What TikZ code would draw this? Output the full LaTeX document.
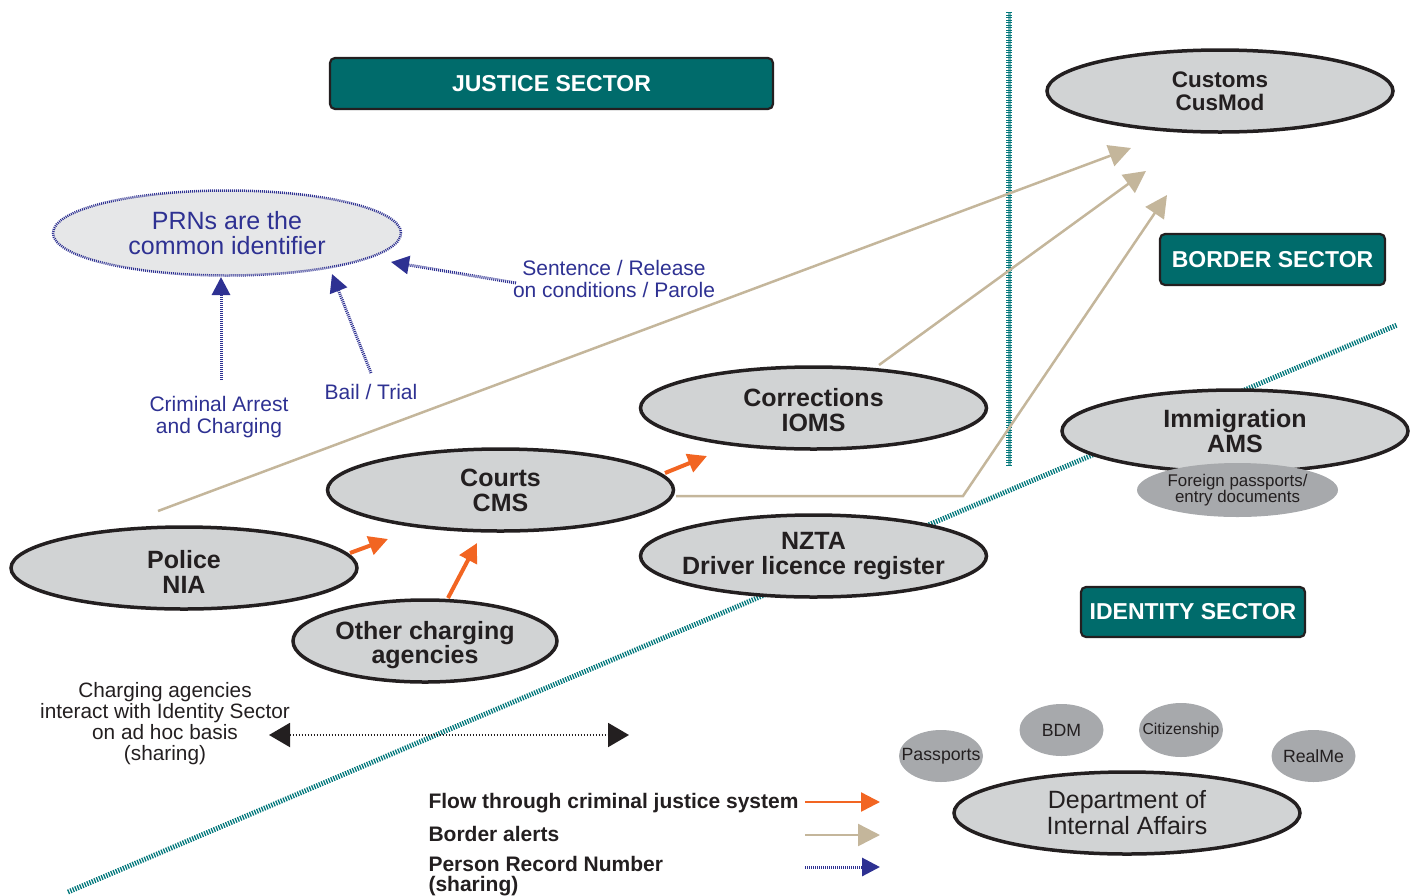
\documentclass[tikz,border=0pt]{standalone}
\usepackage{fontspec}
\setmainfont{Liberation Sans}
\usetikzlibrary{shapes.geometric,arrows.meta}
\definecolor{ink}{RGB}{35,31,32}
\definecolor{tealbox}{RGB}{0,107,107}
\definecolor{tealline}{RGB}{0,118,122}
\definecolor{teallight}{RGB}{120,180,180}
\definecolor{ellgray}{RGB}{209,211,212}
\definecolor{prngray}{RGB}{230,231,232}
\definecolor{darkgray2}{RGB}{167,169,172}
\definecolor{bluec}{RGB}{46,49,146}
\definecolor{orangec}{RGB}{242,101,34}
\definecolor{tanc}{RGB}{196,182,155}
\tikzset{
  sectorbox/.style={draw=ink, line width=2.2pt, fill=tealbox, rounded corners=5pt, text=white,
    font=\bfseries\fontsize{23}{23}\selectfont, inner sep=0pt},
  bigell/.style={ellipse, draw=ink, line width=3.5pt, fill=ellgray, inner xsep=-40pt, inner ysep=0pt, text=ink,
    align=center, minimum width=346pt, minimum height=82pt, font=\bfseries\fontsize{25}{25}\selectfont},
  smallell/.style={ellipse, fill=darkgray2, inner xsep=-20pt, inner ysep=-4pt, text=ink, align=center,
    minimum width=84pt, minimum height=52pt, font=\fontsize{17.7}{17.7}\selectfont},
  bluelabel/.style={text=bluec, align=center, font=\fontsize{21}{21.5}\selectfont},
  orangearrow/.style={draw=orangec, line width=4pt, -{Triangle[length=19pt,width=19pt]}},
  tanarrow/.style={draw=tanc, line width=2.5pt, -{Triangle[length=22pt,width=22pt]}},
  bluearrow/.style={draw=bluec, line width=3pt, dash pattern=on 1pt off 1pt, -{Triangle[length=18pt,width=18pt]}},
  legendtext/.style={anchor=west, text=ink, align=left, font=\bfseries\fontsize{21}{20.5}\selectfont},
}
\begin{document}
\begin{tikzpicture}[x=1pt,y=-1pt]
\useasboundingbox (0,0) rectangle (1416,895);

% sector dividers
\coordinate (dA) at (68,892);
\coordinate (dB) at (1397,325);
\draw[tealline, line width=5pt, dash pattern=on 1.3pt off 1.3pt] (dA) -- (dB);
\coordinate (vA) at (1009,12);
\coordinate (vB) at (1009,466);
\draw[teallight, line width=3pt] (vA) -- (vB);
\draw[tealline, line width=6pt, dash pattern=on 1.2pt off 1.3pt] (vA) -- (vB);

% border alerts (tan)
\coordinate (t1s) at (158,511);
\coordinate (t1e) at (1131,148);
\coordinate (t2s) at (879,365);
\coordinate (t2e) at (1146,171);
\coordinate (t3s) at (676,496);
\coordinate (t3m) at (963,496);
\coordinate (t3e) at (1167,195);
\draw[tanarrow] (t1s) -- (t1e);
\draw[tanarrow] (t2s) -- (t2e);
\draw[tanarrow] (t3s) -- (t3m) -- (t3e);

% sector titles
\node[sectorbox, minimum width=443pt, minimum height=51pt] (justice) at (551.5,83.5) {JUSTICE SECTOR};
\node[sectorbox, minimum width=225pt, minimum height=51pt] (border) at (1272.5,259.5) {BORDER SECTOR};
\node[sectorbox, minimum width=224pt, minimum height=50pt] (identity) at (1193,612) {IDENTITY SECTOR};

% agencies
\node[bigell, font=\bfseries\fontsize{22.5}{23}\selectfont] (customs) at (1220,91) {Customs\\CusMod};
\node[bigell] (corrections) at (813.5,408) {\rule{0pt}{23pt}Corrections\\IOMS};
\node[bigell] (courts) at (500.5,490) {Courts\\CMS};
\node[bigell] (police) at (184,568) {\rule{0pt}{26pt}Police\\NIA};
\node[bigell, minimum width=264pt, font=\bfseries\fontsize{25}{24}\selectfont] (other) at (425,641) {\rule{0pt}{27pt}Other charging\\agencies};
\node[bigell] (nzta) at (813.5,556) {NZTA\\Driver licence register};
\node[bigell] (immigration) at (1235,431) {Immigration\\AMS};
\node[smallell, minimum width=201pt, minimum height=54pt, font=\fontsize{16.9}{16}\selectfont] (foreign) at (1237.5,490) {Foreign passports/\\entry documents};
\node[bigell, font=\fontsize{25}{26}\selectfont] (dia) at (1127,813) {Department of\\Internal Affairs};
\node[smallell] (passports) at (941,756) {Passports};
\node[smallell] (bdm) at (1061.5,730) {BDM};
\node[smallell, font=\fontsize{15.7}{15.7}\selectfont, minimum height=54pt] (citizenship) at (1181,730) {Citizenship};
\node[smallell] (realme) at (1313.5,756) {RealMe};

% PRN
\node[ellipse, draw=bluec, line width=2.5pt, dash pattern=on 1pt off 1pt, fill=prngray,
  minimum width=348pt, minimum height=85pt, inner xsep=-30pt, inner ysep=0pt, text=bluec, align=center,
  font=\fontsize{25}{25}\selectfont] (prn) at (227,233) {PRNs are the\\common identifier};

% flow through criminal justice (orange)
\coordinate (o1s) at (350,553);
\coordinate (o1e) at (388,539);
\coordinate (o2s) at (448,598);
\coordinate (o2e) at (477,543);
\coordinate (o3s) at (665,473);
\coordinate (o3e) at (707,456);
\draw[orangearrow] (o1s) -- (o1e);
\draw[orangearrow] (o2s) -- (o2e);
\draw[orangearrow] (o3s) -- (o3e);

% PRN sharing (blue)
\node[bluelabel] (arrestlbl) at (219,417) {Criminal Arrest\\and Charging};
\node[bluelabel] (baillbl) at (371,392) {Bail / Trial};
\node[bluelabel] (sentlbl) at (614,279) {Sentence / Release\\on conditions / Parole};
\coordinate (b1s) at (221,380);
\coordinate (b1e) at (221,277);
\coordinate (b2s) at (371,373);
\coordinate (b2e) at (332,274);
\coordinate (b3s) at (516,283);
\coordinate (b3e) at (391,262);
\draw[bluearrow] (b1s) -- (b1e);
\draw[bluearrow] (b2s) -- (b2e);
\draw[bluearrow] (b3s) -- (b3e);

% ad hoc sharing
\node[text=ink, align=center, font=\fontsize{20.8}{21}\selectfont] (adhoc) at (165,724)
  {Charging agencies\\interact with Identity Sector\\on ad hoc basis\\(sharing)};
\coordinate (hA) at (269,735);
\coordinate (hB) at (629,735);
\draw[ink, line width=2pt, dash pattern=on 1.5pt off 1.5pt,
  {Triangle[length=21pt,width=24pt]}-{Triangle[length=21pt,width=24pt]}] (hA) -- (hB);

% legend
\node[legendtext] (leg1) at (425,803) {Flow through criminal justice system};
\node[legendtext] (leg2) at (425,834) {Border alerts};
\node[legendtext] (leg3) at (425,876) {Person Record Number\\(sharing)};
\coordinate (l1s) at (805,802);
\coordinate (l1e) at (880,802);
\coordinate (l2s) at (805,835);
\coordinate (l2e) at (880,835);
\coordinate (l3s) at (805,867);
\coordinate (l3e) at (880,867);
\draw[orangearrow, line width=2.5pt] (l1s) -- (l1e);
\draw[tanarrow] (l2s) -- (l2e);
\draw[bluearrow] (l3s) -- (l3e);
\end{tikzpicture}
\end{document}
